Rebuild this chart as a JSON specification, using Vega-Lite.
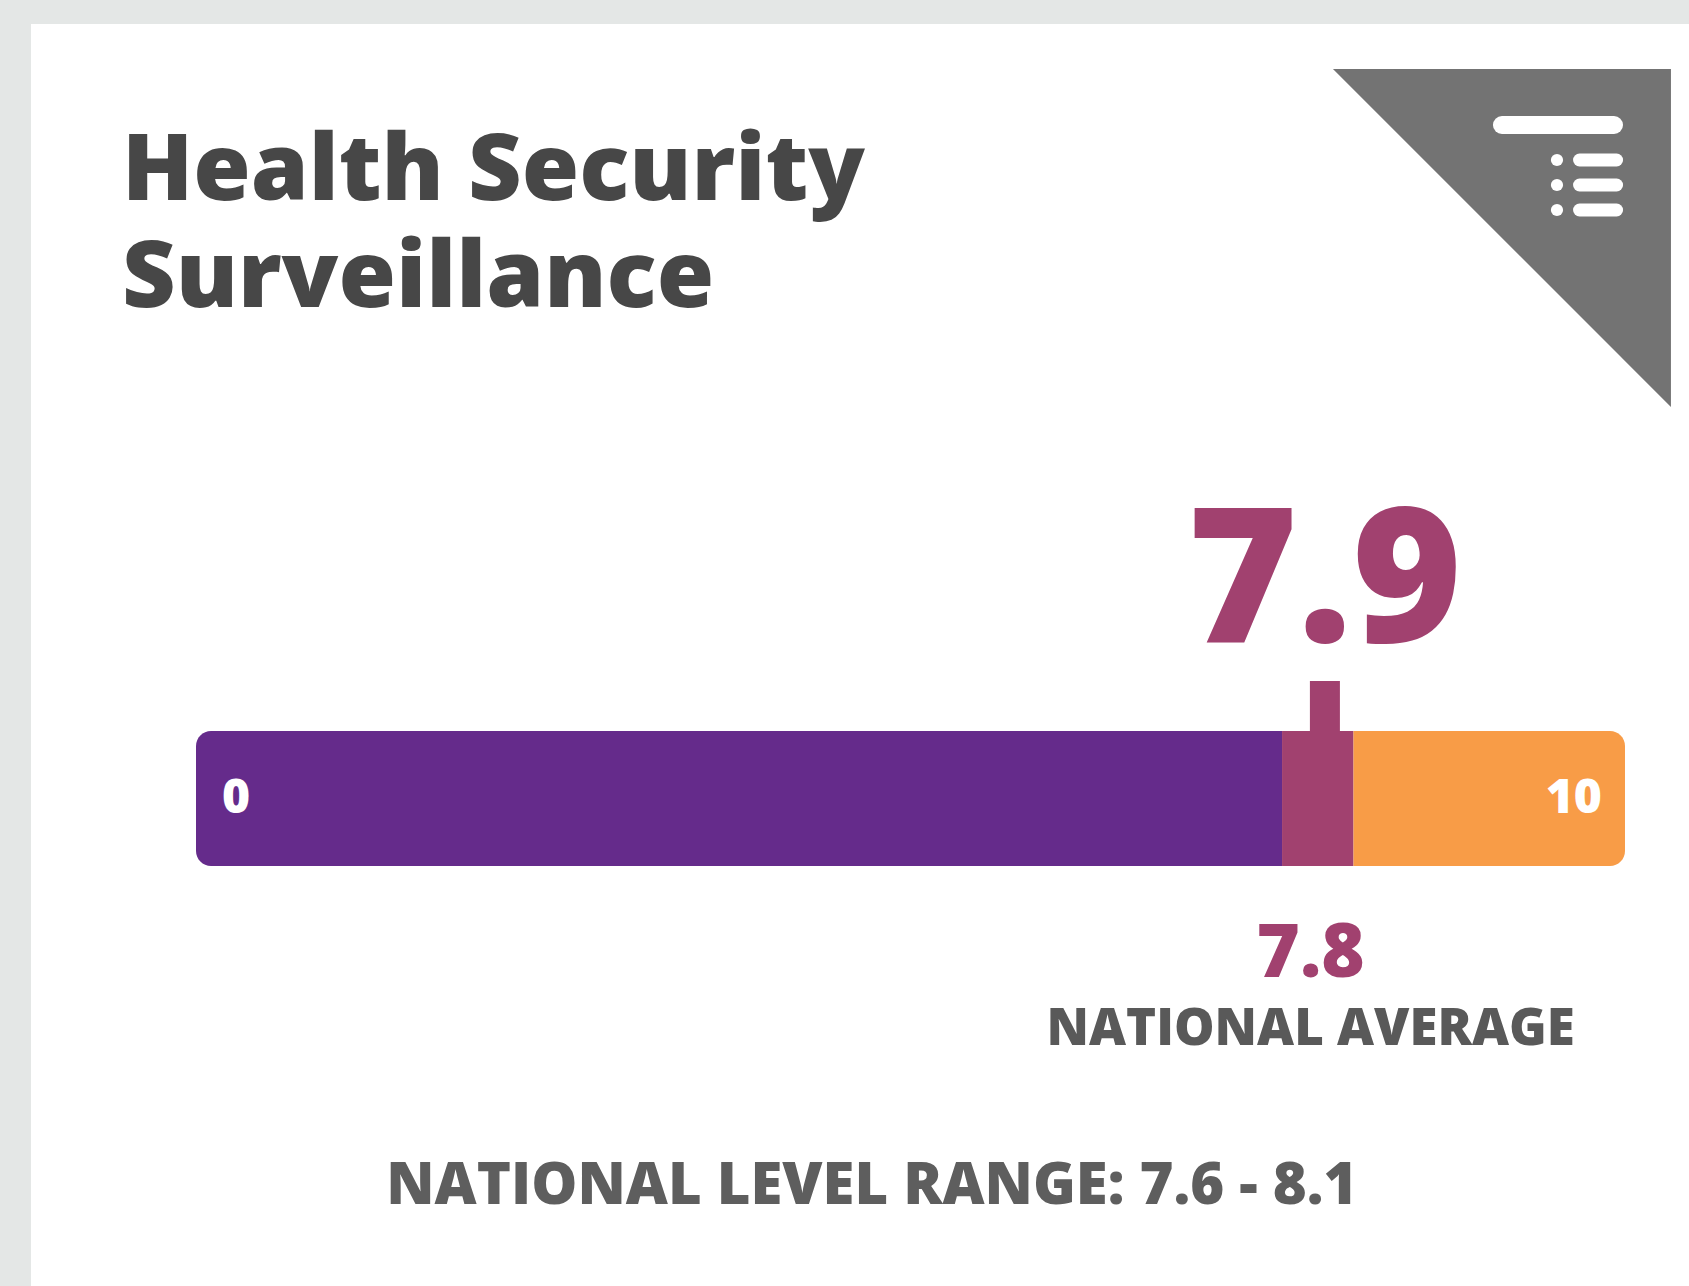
{
  "$schema": "https://vega.github.io/schema/vega-lite/v6.json",
  "width": 1689,
  "height": 1286,
  "autosize": {"type": "fit", "contains": "padding"},
  "padding": {"left": 31, "top": 24, "right": 0, "bottom": 0},
  "background": "#e4e7e6",
  "config": {"view": {"stroke": null, "fill": "#ffffff"}},
  "datasets": {
    "segments": [
      {"segment": "Below national range", "start": 0, "end": 7.6},
      {"segment": "National level range", "start": 7.6, "end": 8.1},
      {"segment": "Above national range", "start": 8.1, "end": 10}
    ],
    "scores": [
      {"measure": "State score", "value": 7.9},
      {"measure": "National average", "value": 7.8}
    ],
    "ends": [{"tick": 0}, {"tick": 10}],
    "range": [{"low": 7.6, "high": 8.1, "label": "NATIONAL LEVEL RANGE: 7.6 - 8.1"}],
    "card": [{"title": "Health Security Surveillance"}]
  },
  "encoding": {
    "x": {"type": "quantitative", "scale": {"domain": [-1.1547, 10.4479], "nice": false, "zero": false}, "axis": null},
    "y": {"type": "quantitative", "scale": {"domain": [0, 1262], "reverse": true, "nice": false, "zero": false}, "axis": null}
  },
  "layer": [
    {
      "data": {"name": "card"},
      "mark": {"type": "point", "shape": "M-1,-1L1,-1L1,1Z", "size": 114244, "filled": true, "color": "#737373", "opacity": 1, "strokeWidth": 0},
      "encoding": {"x": {"datum": 9.139}, "y": {"datum": 214}}
    },
    {
      "data": {"name": "card"},
      "mark": {"type": "rule", "color": "#ffffff", "strokeWidth": 18, "strokeCap": "round"},
      "encoding": {"x": {"datum": 9.139}, "x2": {"datum": 9.923}, "y": {"datum": 101}}
    },
    {
      "data": {"name": "card"},
      "mark": {"type": "rule", "color": "#ffffff", "strokeWidth": 13, "strokeCap": "round"},
      "encoding": {"x": {"datum": 9.682}, "x2": {"datum": 9.941}, "y": {"datum": 136}}
    },
    {
      "data": {"name": "card"},
      "mark": {"type": "rule", "color": "#ffffff", "strokeWidth": 13, "strokeCap": "round"},
      "encoding": {"x": {"datum": 9.682}, "x2": {"datum": 9.941}, "y": {"datum": 161}}
    },
    {
      "data": {"name": "card"},
      "mark": {"type": "rule", "color": "#ffffff", "strokeWidth": 13, "strokeCap": "round"},
      "encoding": {"x": {"datum": 9.682}, "x2": {"datum": 9.941}, "y": {"datum": 186}}
    },
    {
      "data": {"name": "card"},
      "mark": {"type": "point", "shape": "circle", "size": 150, "filled": true, "color": "#ffffff", "opacity": 1, "strokeWidth": 0},
      "encoding": {"x": {"datum": 9.524}, "y": {"datum": 136}}
    },
    {
      "data": {"name": "card"},
      "mark": {"type": "point", "shape": "circle", "size": 150, "filled": true, "color": "#ffffff", "opacity": 1, "strokeWidth": 0},
      "encoding": {"x": {"datum": 9.524}, "y": {"datum": 161}}
    },
    {
      "data": {"name": "card"},
      "mark": {"type": "point", "shape": "circle", "size": 150, "filled": true, "color": "#ffffff", "opacity": 1, "strokeWidth": 0},
      "encoding": {"x": {"datum": 9.524}, "y": {"datum": 186}}
    },
    {
      "data": {"name": "card"},
      "mark": {"type": "text", "text": "Health Security", "align": "left", "baseline": "alphabetic", "font": "Open Sans", "fontWeight": 800, "fontSize": 93, "color": "#474747"},
      "encoding": {"x": {"datum": -0.518}, "y": {"datum": 176}}
    },
    {
      "data": {"name": "card"},
      "mark": {"type": "text", "text": "Surveillance", "align": "left", "baseline": "alphabetic", "font": "Open Sans", "fontWeight": 800, "fontSize": 93, "color": "#474747"},
      "encoding": {"x": {"datum": -0.518}, "y": {"datum": 283}}
    },
    {
      "data": {"name": "segments"},
      "transform": [{"filter": "datum.segment == 'Below national range'"}],
      "mark": {"type": "bar", "cornerRadiusTopLeft": 15, "cornerRadiusBottomLeft": 15},
      "encoding": {
        "x": {"field": "start", "type": "quantitative"},
        "x2": {"field": "end"},
        "y": {"datum": 707}, "y2": {"datum": 842},
        "color": {"field": "segment", "type": "nominal", "legend": null,
          "scale": {"domain": ["Below national range", "National level range", "Above national range"], "range": ["#652b8b", "#a1416f", "#f89c47"]}}
      }
    },
    {
      "data": {"name": "segments"},
      "transform": [{"filter": "datum.segment == 'National level range'"}],
      "mark": {"type": "bar"},
      "encoding": {
        "x": {"field": "start", "type": "quantitative"},
        "x2": {"field": "end"},
        "y": {"datum": 707}, "y2": {"datum": 842},
        "color": {"field": "segment", "type": "nominal", "legend": null}
      }
    },
    {
      "data": {"name": "segments"},
      "transform": [{"filter": "datum.segment == 'Above national range'"}],
      "mark": {"type": "bar", "cornerRadiusTopRight": 15, "cornerRadiusBottomRight": 15},
      "encoding": {
        "x": {"field": "start", "type": "quantitative"},
        "x2": {"field": "end"},
        "y": {"datum": 707}, "y2": {"datum": 842},
        "color": {"field": "segment", "type": "nominal", "legend": null}
      }
    },
    {
      "data": {"name": "ends"},
      "transform": [{"filter": "datum.tick == 0"}],
      "mark": {"type": "text", "align": "left", "dx": 26, "baseline": "alphabetic", "font": "Open Sans", "fontWeight": 800, "fontSize": 48, "color": "#ffffff"},
      "encoding": {"x": {"field": "tick", "type": "quantitative"}, "y": {"datum": 789}, "text": {"field": "tick", "type": "quantitative"}}
    },
    {
      "data": {"name": "ends"},
      "transform": [{"filter": "datum.tick == 10"}],
      "mark": {"type": "text", "align": "right", "dx": -23, "baseline": "alphabetic", "font": "Open Sans", "fontWeight": 800, "fontSize": 48, "color": "#ffffff"},
      "encoding": {"x": {"field": "tick", "type": "quantitative"}, "y": {"datum": 789}, "text": {"field": "tick", "type": "quantitative"}}
    },
    {
      "data": {"name": "scores"},
      "transform": [{"filter": "datum.measure == 'State score'"}],
      "mark": {"type": "rule", "strokeWidth": 30, "color": "#a1416f"},
      "encoding": {"x": {"field": "value", "type": "quantitative"}, "y": {"datum": 657}, "y2": {"datum": 707}}
    },
    {
      "data": {"name": "scores"},
      "transform": [{"filter": "datum.measure == 'State score'"}],
      "mark": {"type": "text", "align": "center", "baseline": "alphabetic", "font": "Open Sans", "fontWeight": 800, "fontSize": 188, "color": "#a1416f"},
      "encoding": {"x": {"field": "value", "type": "quantitative"}, "y": {"datum": 618}, "text": {"field": "value", "type": "quantitative", "format": ".1f"}}
    },
    {
      "data": {"name": "scores"},
      "transform": [{"filter": "datum.measure == 'National average'"}],
      "mark": {"type": "text", "align": "center", "baseline": "alphabetic", "font": "Open Sans", "fontWeight": 800, "fontSize": 74, "color": "#a1416f"},
      "encoding": {"x": {"field": "value", "type": "quantitative"}, "y": {"datum": 953}, "text": {"field": "value", "type": "quantitative", "format": ".1f"}}
    },
    {
      "data": {"name": "scores"},
      "transform": [{"filter": "datum.measure == 'National average'"}],
      "mark": {"type": "text", "align": "center", "baseline": "alphabetic", "font": "Open Sans", "fontWeight": 800, "fontSize": 51, "color": "#595959", "text": "NATIONAL AVERAGE"},
      "encoding": {"x": {"field": "value", "type": "quantitative"}, "y": {"datum": 1021}}
    },
    {
      "data": {"name": "range"},
      "mark": {"type": "text", "align": "center", "baseline": "alphabetic", "font": "Open Sans", "fontWeight": 800, "fontSize": 58, "color": "#5e5e5e"},
      "encoding": {"x": {"datum": 4.73}, "y": {"datum": 1180}, "text": {"field": "label", "type": "nominal"}}
    }
  ]
}
